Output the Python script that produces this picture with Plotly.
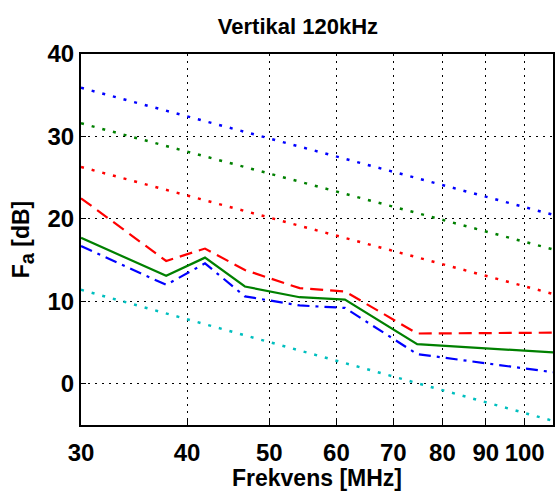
import plotly.graph_objects as go

# Measured curves (frequency in MHz, Fa in dB)
freq_meas = [30, 37.8, 42.0, 46.8, 54.3, 61.4, 74.7, 108]
red_dashed = [22.5, 14.9, 16.4, 13.8, 11.6, 11.2, 6.1, 6.2]
green_solid = [17.7, 13.1, 15.3, 11.8, 10.5, 10.2, 4.8, 3.8]
blue_dashdot = [16.7, 12.0, 14.6, 10.6, 9.5, 9.2, 3.6, 1.4]

# Reference noise curves (straight on log axis)
freq_ref = [30, 108]
business = [35.9, 20.5]
residential = [31.6, 16.3]
rural = [26.3, 10.9]
quiet_rural = [11.4, -4.5]

x_ticks = [30, 40, 50, 60, 70, 80, 90, 100]
x_ticktext = ["30", "40", "50", "60", "70", "80", "90", "100"]
y_ticks = [0, 10, 20, 30, 40]

FONT = "Arial"

fig = go.Figure()

dot = "3px,8px"
fig.add_trace(go.Scatter(x=freq_ref, y=business, mode="lines",
                         line=dict(color="#0000ff", width=2.5, dash=dot)))
fig.add_trace(go.Scatter(x=freq_ref, y=residential, mode="lines",
                         line=dict(color="#008000", width=2.5, dash=dot)))
fig.add_trace(go.Scatter(x=freq_ref, y=rural, mode="lines",
                         line=dict(color="#ff0000", width=2.5, dash=dot)))
fig.add_trace(go.Scatter(x=freq_ref, y=quiet_rural, mode="lines",
                         line=dict(color="#00bfbf", width=2.5, dash=dot)))

fig.add_trace(go.Scatter(x=freq_meas, y=red_dashed, mode="lines",
                         line=dict(color="#ff0000", width=2.2, dash="13px,7px")))
fig.add_trace(go.Scatter(x=freq_meas, y=blue_dashdot, mode="lines",
                         line=dict(color="#0000ff", width=2.2, dash="12px,6px,3px,6px")))
fig.add_trace(go.Scatter(x=freq_meas, y=green_solid, mode="lines",
                         line=dict(color="#008000", width=2.2)))

fig.update_layout(
    width=558, height=491,
    margin=dict(l=81, r=3, t=54, b=66),
    paper_bgcolor="white", plot_bgcolor="white",
    showlegend=False,
    font=dict(family=FONT, color="black"),
    title=dict(text="<b>Vertikal 120kHz</b>", x=0.534, xanchor="center",
               y=1 - 26 / 491, yanchor="middle",
               font=dict(size=22, family=FONT, color="black")),
)

fig.update_xaxes(
    type="log", range=[1.4771, 2.0334],
    tickvals=x_ticks, ticktext=x_ticktext,
    tickfont=dict(size=24, family=FONT, color="black", weight="bold"),
    ticklabelstandoff=5,
    showgrid=True, gridcolor="black", gridwidth=1, griddash="2px,5px",
    showline=True, linecolor="black", linewidth=2, mirror=True,
    ticks="inside", ticklen=5, tickcolor="black",
    zeroline=False,
    title=dict(text="<b>Frekvens [MHz]</b>", standoff=5,
               font=dict(size=23, family=FONT, color="black")),
)
fig.update_yaxes(
    range=[-5, 40], tickvals=y_ticks,
    tickfont=dict(size=24, family=FONT, color="black", weight="bold"),
    showgrid=True, gridcolor="black", gridwidth=1, griddash="2px,5px",
    showline=True, linecolor="black", linewidth=2, mirror=True,
    ticks="inside", ticklen=5, tickcolor="black",
    zeroline=False,
    title=dict(text="<b>F<sub><span style='font-size:20px'>a</span></sub> [dB]</b>", standoff=11,
               font=dict(size=23, family=FONT, color="black")),
)

fig.write_html("out.html")
